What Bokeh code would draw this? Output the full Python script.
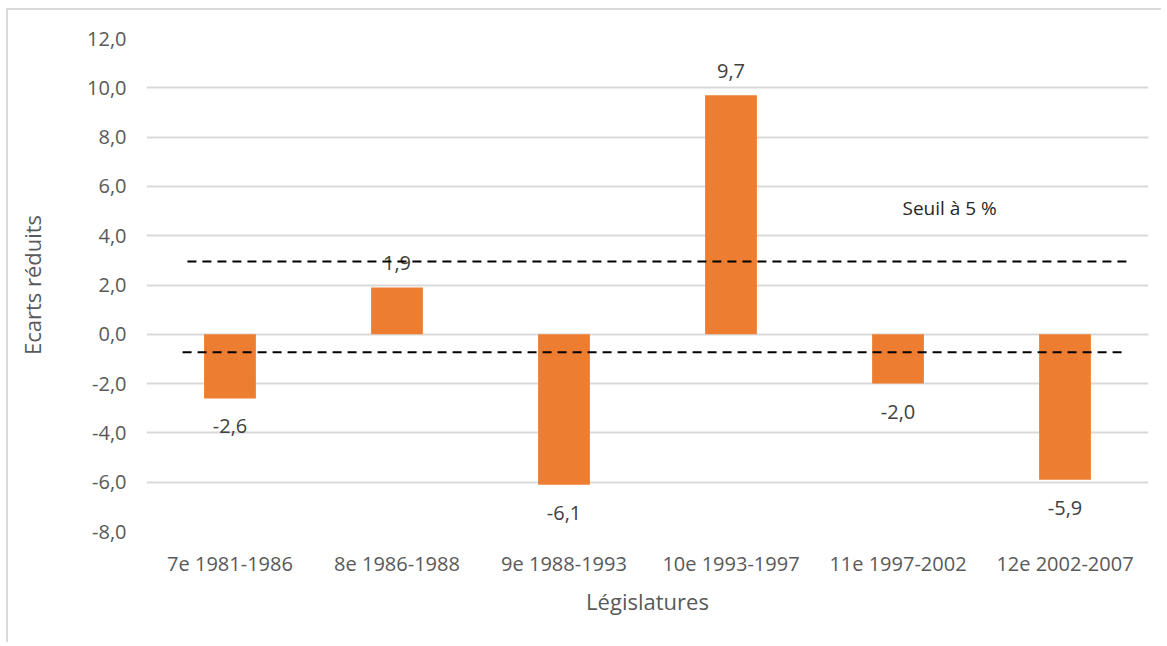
from bokeh.plotting import figure
from bokeh.models import Range1d, FixedTicker, ColumnDataSource, Segment
from bokeh.embed import file_html
from bokeh.resources import INLINE
from bokeh.core.properties import value

# ---- data ----
categories = ["7e 1981-1986", "8e 1986-1988", "9e 1988-1993",
              "10e 1993-1997", "11e 1997-2002", "12e 2002-2007"]
ecarts = [-2.6, 1.9, -6.1, 9.7, -2.0, -5.9]
seuils = [2.95, -0.73]
seuil_label = "Seuil à 5 %"
y_ticks = [-8, -6, -4, -2, 0, 2, 4, 6, 8, 10, 12]

FONT = "Open Sans"

W, H = 1155, 634
p = figure(width=W, height=H, output_backend="svg", toolbar_location=None,
           x_range=Range1d(0, len(categories)), y_range=Range1d(-8, 12),
           min_border_left=138, min_border_right=15, min_border_top=28,
           min_border_bottom=113)
p.styles = {"border-left": "2px solid #d9d9d9", "border-top": "2px solid #d9d9d9",
            "margin-left": "6px", "margin-top": "8px"}
p.outline_line_color = None
p.background_fill_color = "white"
p.border_fill_color = "white"

xs = [i + 0.5 for i in range(len(categories))]
src = ColumnDataSource(dict(
    x=xs, top=ecarts,
    label=[f"{v:.1f}".replace(".", ",") for v in ecarts],
    yoff=[-24 if v >= 0 else 28 for v in ecarts],
))

p.vbar(x="x", top="top", bottom=0, width=0.31, source=src,
       fill_color="#ED7D31", line_color=None)

p.text(x="x", y="top", text="label", y_offset="yoff", source=src,
       text_align="center", text_baseline="middle",
       text_font=value(FONT), text_font_size="20px", text_color="#404040")

# threshold dashed lines
seg_src = ColumnDataSource(dict(x0=[0.245, 0.216], x1=[5.886, 5.856],
                                y0=seuils, y1=seuils))
p.add_glyph(seg_src, Segment(x0="x0", y0="y0", x1="x1", y1="y1",
                             line_color="black", line_width=2, line_dash="9 6"))

p.text(x=[4.527], y=[5.11], text=[seuil_label], text_align="left",
       text_baseline="middle", text_font=value(FONT), text_font_size="19px",
       text_color="#262626")

# axes
p.xaxis.ticker = FixedTicker(ticks=xs)
p.xaxis.major_label_overrides = {x: c for x, c in zip(xs, categories)}
p.yaxis.ticker = FixedTicker(ticks=y_ticks)
p.yaxis.major_label_overrides = {t: f"{t:.1f}".replace(".", ",") for t in y_ticks}

for ax in (p.xaxis, p.yaxis):
    ax.axis_line_color = None
    ax.major_tick_line_color = None
    ax.minor_tick_line_color = None
    ax.major_tick_out = 0
    ax.major_tick_in = 0
    ax.minor_tick_out = 0
    ax.major_label_text_font = FONT
    ax.major_label_text_font_size = "20px"
    ax.major_label_text_color = "#595959"
    ax.axis_label_text_font = FONT
    ax.axis_label_text_font_size = "22px"
    ax.axis_label_text_color = "#595959"
    ax.axis_label_text_font_style = "normal"

p.xaxis.axis_label = "Législatures"
p.yaxis.axis_label = "Ecarts réduits"
p.xaxis.major_label_standoff = 18
p.yaxis.major_label_standoff = 20
p.xaxis.axis_label_standoff = 6
p.yaxis.axis_label_standoff = 37

p.xgrid.grid_line_color = None
p.ygrid.grid_line_color = "#d9d9d9"
p.ygrid.grid_line_width = 2
p.ygrid.ticker = FixedTicker(ticks=y_ticks)

open("out.html", "w").write(file_html(p, INLINE))
